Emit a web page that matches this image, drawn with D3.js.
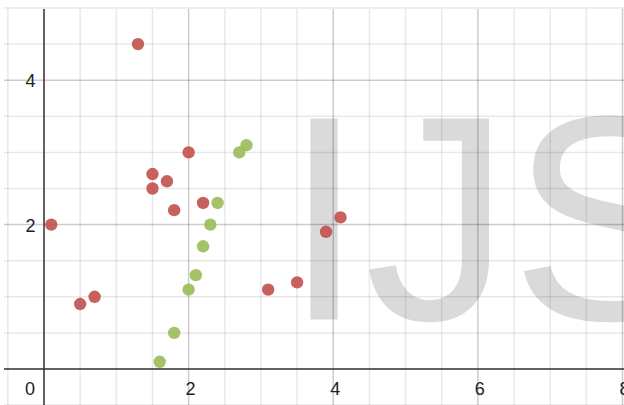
<!DOCTYPE html>
<html><head><meta charset="utf-8">
<script src="https://cdn.jsdelivr.net/npm/d3@7"></script>
<style>html,body{margin:0;padding:0;background:#fff;overflow:hidden}</style>
</head><body>
<svg id="c" width="624" height="405"></svg>
<script>
const redX = [0.1, 1.3, 0.5, 0.7, 1.5, 1.5, 1.7, 2.0, 1.8, 2.2, 3.1, 3.5, 3.9, 4.1];
const redY = [2.0, 4.5, 0.9, 1.0, 2.7, 2.5, 2.6, 3.0, 2.2, 2.3, 1.1, 1.2, 1.9, 2.1];
const greenX = [1.6, 1.8, 2.0, 2.1, 2.2, 2.3, 2.4, 2.7, 2.8];
const greenY = [0.1, 0.5, 1.1, 1.3, 1.7, 2.0, 2.3, 3.0, 3.1];
const xTicks = [0, 2, 4, 6, 8];
const yTicks = [2, 4];
const watermark = "IJS";

(function () {
const svg = d3.select("#c");
const W = 624, H = 405;
const x = d3.scaleLinear().domain([0, 8]).range([44, 622.5]);
const y = d3.scaleLinear().domain([0, 5]).range([369, 8]);
const plotLeft = 4, plotTop = 9;

// watermark
svg.append("text").attr("x", 283.5).attr("y", 319.5)
  .attr("font-family", "Liberation Sans, Arial, sans-serif")
  .attr("font-size", 292).attr("fill", "#dadada").text(watermark);

const minor = d3.range(-0.5, 8.01, 0.5);
const minorY = d3.range(-0.5, 5.01, 0.5);
const g = svg.append("g");
g.selectAll("line.vx").data(minor).join("line")
  .attr("x1", d => x(d)).attr("x2", d => x(d)).attr("y1", plotTop).attr("y2", H)
  .attr("stroke", d => (d % 2 === 0 && d !== 0) ? "rgba(0,0,0,0.2)" : "rgba(0,0,0,0.09)").attr("stroke-width", 1.5);
g.selectAll("line.hy").data(minorY).join("line")
  .attr("y1", d => y(d)).attr("y2", d => y(d)).attr("x1", plotLeft).attr("x2", W)
  .attr("stroke", d => (d % 2 === 0 && d !== 0) ? "rgba(0,0,0,0.2)" : "rgba(0,0,0,0.09)").attr("stroke-width", 1.5);

// axes
svg.append("line").attr("x1", x(0)).attr("x2", x(0)).attr("y1", plotTop).attr("y2", H)
  .attr("stroke", "#333").attr("stroke-width", 1.5);
svg.append("line").attr("x1", plotLeft).attr("x2", W).attr("y1", y(0)).attr("y2", y(0))
  .attr("stroke", "#333").attr("stroke-width", 1.5);

const font = "Liberation Sans, Arial, sans-serif";
svg.selectAll("text.xl").data(xTicks).join("text")
  .attr("x", d => d === 0 ? 30 : x(d) + 2).attr("y", 394.5)
  .attr("text-anchor", "middle").attr("font-family", font).attr("font-size", 18).attr("fill", "#222")
  .text(d => d);
svg.selectAll("text.yl").data(yTicks).join("text")
  .attr("x", 35.5).attr("y", d => y(d) + 7)
  .attr("text-anchor", "end").attr("font-family", font).attr("font-size", 18).attr("fill", "#222")
  .text(d => d);

svg.selectAll("circle.r").data(redX).join("circle")
  .attr("cx", d => x(d)).attr("cy", (d, i) => y(redY[i])).attr("r", 6.2)
  .attr("fill", "#c0504d").attr("opacity", 0.9);
svg.selectAll("circle.g").data(greenX).join("circle")
  .attr("cx", d => x(d)).attr("cy", (d, i) => y(greenY[i])).attr("r", 6.2)
  .attr("fill", "#9bbb59").attr("opacity", 0.9);
})();
</script>
</body></html>
